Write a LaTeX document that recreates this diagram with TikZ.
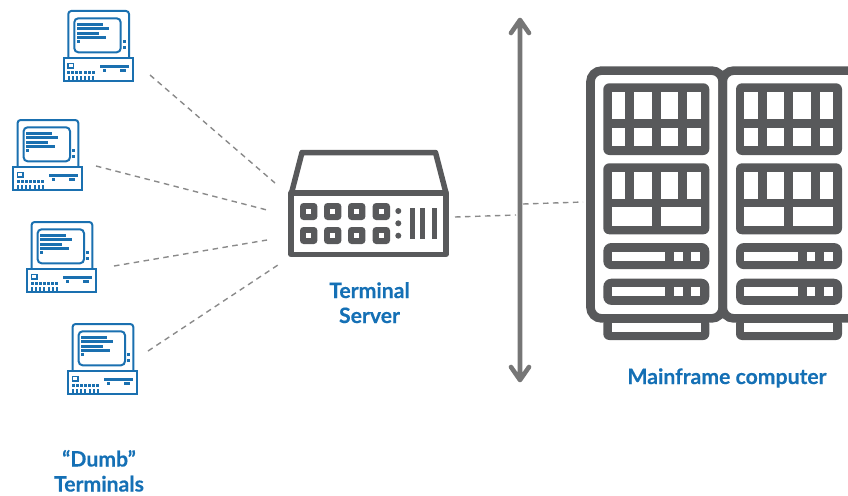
\documentclass[tikz,border=0pt]{standalone}
\usepackage{fontspec}
\setmainfont{Lato}[BoldFeatures={FakeBold=0.35}]
\usetikzlibrary{arrows.meta}
\definecolor{termblue}{HTML}{1A70B0}
\definecolor{labelblue}{HTML}{1570B5}
\definecolor{dark}{HTML}{58595B}
\definecolor{linkgray}{HTML}{8A8A8A}
\definecolor{arrowgray}{HTML}{767676}
\tikzset{
  x=1pt,y=-1pt,
  link/.style={draw=linkgray,line width=1.4pt,dash pattern=on 5.5pt off 4.5pt},
  label/.style={text=labelblue,font=\bfseries\fontsize{21.2}{25}\selectfont,align=center,inner sep=0pt},
  tline/.style={draw=termblue,line width=2pt,fill=white},
  tfill/.style={fill=termblue},
  dline/.style={draw=dark,line width=5.5pt,line join=round},
  dfill/.style={fill=dark},
  win/.style={fill=white},
  terminal/.pic={
    \path[tline,rounded corners=3pt] (5.6,48) -- (5.6,1) -- (66.3,1) -- (66.3,48);
    \path[tline,rounded corners=4pt] (11.6,8.3) rectangle (58,42.3);
    \path[tline] (1,48) rectangle (70.3,70.7);
    \foreach \a/\b/\c/\d in {14/40/12.7/16,14/46.3/17.3/20.3,14/36.3/22/25,14/43.3/26/29,14/17.3/30/33,
      60/63.3/30/33,60/63.3/36/39,37.3/66.3/55/58,40/43.3/59/62,57.3/63.3/59/62}
      \fill[tfill] (\a,\c) rectangle (\b,\d);
    \draw[termblue,line width=1.5pt] (5.4,53.4) rectangle (11,58.2);
    \foreach \a in {4.6,8.6,12.6,16.6,21,25,29}{
      \fill[tfill] (\a,61) rectangle ++(3,3);
      \fill[tfill] (\a+.5,65.5) rectangle ++(2,4.5);
    }
  },
  rackpanels/.pic={
    \fill[dfill,rounded corners=6pt] (0,0) rectangle (106,71.7);
    \fill[dfill,rounded corners=6pt] (0,80) rectangle (106,151);
    \foreach \a/\b in {8.4/21.7,31/48.4,57.4/75,84/97.4}{
      \fill[win] (\a,9) rectangle (\b,36);
      \fill[win] (\a,45) rectangle (\b,62.4);
      \fill[win] (\a,89) rectangle (\b,116);
    }
    \fill[win] (8.4,124) rectangle (48.4,142.4);
    \fill[win] (57.4,124) rectangle (97.4,142.4);
    \foreach \y in {159.7,195.4}{
      \fill[dfill,rounded corners=8pt] (0,\y) rectangle (106,\y+26.2);
      \fill[win] (8.4,\y+8.7) rectangle (61.7,\y+17.7);
      \fill[win] (70.7,\y+8.7) rectangle (79.4,\y+17.7);
      \fill[win] (88,\y+8.7) rectangle (97,\y+17.7);
    }
  }
}
\begin{document}
\begin{tikzpicture}
\useasboundingbox (0,0) rectangle (848,495);
% terminals
\path (62.7,10) pic {terminal};
\path (12,119) pic {terminal};
\path (26,221) pic {terminal};
\path (67,323) pic {terminal};
% link ends
\coordinate (t1) at (150,75);   \coordinate (s1) at (275,183);
\coordinate (t2) at (96,166);   \coordinate (s2) at (267,210);
\coordinate (t3) at (114,266);  \coordinate (s3) at (267,240);
\coordinate (t4) at (148,351);  \coordinate (s4) at (281,263);
\coordinate (srv) at (455,217); \coordinate (busl) at (516,215);
\coordinate (busr) at (523,204);\coordinate (main) at (583,202);
\coordinate (bustop) at (520,20);\coordinate (busbot) at (520,380);
\draw[link] (t1) -- (s1);
\draw[link] (t2) -- (s2);
\draw[link] (t3) -- (s3);
\draw[link] (t4) -- (s4);
\draw[link] (srv) -- (busl);
\draw[link] (busr) -- (main);
\draw[arrowgray,line width=4.6pt,line cap=round,line join=round]
  (bustop) -- (busbot)
  (511,33) -- (bustop) -- (529,33)
  (511,367) -- (busbot) -- (529,367);
% server
\path[dline] (291.5,193) -- (302,152.5) -- (435.5,152.5) -- (446,193);
\path[dline] (291,193) rectangle (446,254.5);
\foreach \x in {300,324,348,372.6}{
  \foreach \y in {203,227}{
    \fill[dfill,rounded corners=3.5pt] (\x,\y) rectangle ++(17.4,17);
    \fill[win] (\x+6,\y+6) rectangle ++(5.4,5);
  }
}
\foreach \y in {211,223.3,235.7} \fill[dfill] (398.3,\y) circle (3pt);
\foreach \x in {409.5,420.3,431.7} \fill[dfill] (\x,208) rectangle ++(5,31);
% mainframe
\fill[dfill,rounded corners=6pt] (603.3,318) rectangle (709.3,340);
\fill[dfill,rounded corners=6pt] (736,318) rectangle (842,340);
\draw[draw=dark,line width=8.6pt,rounded corners=11pt] (722.7,318.4) -- (590.5,318.4) -- (590.5,70.6) -- (722.7,70.6) -- cycle;
\draw[draw=dark,line width=8.6pt,rounded corners=11pt] (852,70.6) -- (722.7,70.6) -- (722.7,318.4) -- (852,318.4);
\path (603.3,83.3) pic {rackpanels};
\path (736,83.3) pic {rackpanels};
\fill[win] (611.7,322.7) rectangle (700.7,331.7);
\fill[win] (744.4,322.7) rectangle (833.4,331.7);
% labels
\node[label,anchor=base] (lterm) at (369.5,323) {Terminal\\Server};
\node[label,anchor=base] (lmain) at (727,384) {Mainframe computer};
\node[label,anchor=base] (ldumb) at (99,491.5) {“Dumb”\\Terminals};
\end{tikzpicture}
\end{document}
